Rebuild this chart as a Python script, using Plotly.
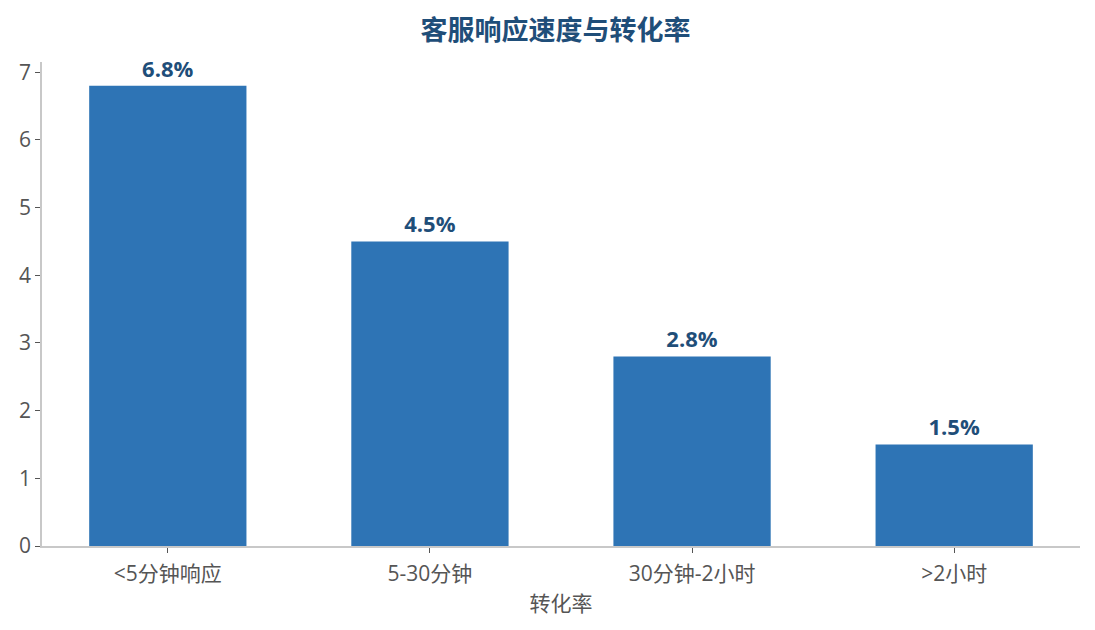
import plotly.graph_objects as go

categories = ["<5分钟响应", "5-30分钟", "30分钟-2小时", ">2小时"]
conversion = [6.8, 4.5, 2.8, 1.5]
labels = ["6.8%", "4.5%", "2.8%", "1.5%"]

font_family = "Open Sans, Noto Sans CJK SC, sans-serif"

fig = go.Figure()
fig.add_trace(go.Bar(
    x=categories,
    y=conversion,
    text=labels,
    textposition="outside",
    textfont=dict(size=22, color="#1f4e79", family=font_family, weight="bold"),
    marker=dict(color="#2e74b5", line=dict(width=0)),
    width=0.6,
    cliponaxis=False,
))

# the page has an 8px body margin, so margins are shifted by that much
fig.update_layout(
    width=1095, height=630,
    margin=dict(l=34, r=23, t=54, b=92, autoexpand=False),
    plot_bgcolor="white", paper_bgcolor="white",
    font=dict(family=font_family, color="#555555", size=21),
    title=dict(text="<b>客服响应速度与转化率</b>", x=0.5, xanchor="center",
               yref="container", y=0.965, yanchor="middle",
               font=dict(size=27, color="#1f4e79", family="Noto Sans CJK SC")),
    showlegend=False,
)
fig.update_xaxes(
    range=[-0.48, 3.48],
    automargin=False,
    title=dict(text="转化率", font=dict(size=21, color="#555555"), standoff=10),
    showline=True, linecolor="#c8c8c8", linewidth=1.5,
    ticks="outside", tickcolor="#555555", ticklen=5,
    ticklabelstandoff=3,
    tickfont=dict(size=21),
)
fig.update_yaxes(
    range=[0, 7.15],
    dtick=1,
    automargin=False,
    showgrid=False, zeroline=False,
    showline=True, linecolor="#c8c8c8", linewidth=1.5,
    ticks="outside", tickcolor="#555555", ticklen=5,
    tickfont=dict(size=21),
)

fig.write_html("out.html")
